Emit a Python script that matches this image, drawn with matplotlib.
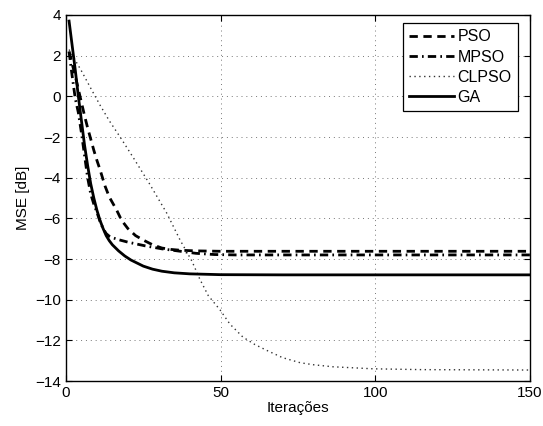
import numpy as np
import matplotlib
matplotlib.use('Agg')
import matplotlib.pyplot as plt

# values (iteration, MSE in dB)
ga_x = [1, 2, 3, 4, 5, 6, 7, 8, 9, 10, 11, 12, 13, 14, 15, 17, 19, 21, 23, 25, 28, 31, 35, 40, 50, 70, 150]
ga_y = [3.7, 2.5, 1.3, 0.0, -1.2, -2.4, -3.4, -4.3, -5.0, -5.6, -6.1, -6.5, -6.85, -7.1, -7.3, -7.6, -7.85,
        -8.05, -8.2, -8.35, -8.5, -8.6, -8.68, -8.73, -8.77, -8.78, -8.78]

pso_x = [1, 2, 3, 4, 5, 6, 7, 8, 9, 10, 11, 12.6, 14, 16.4, 18, 20, 22.5, 25, 28, 31, 34, 37, 42, 50, 150]
pso_y = [2.2, 1.6, 1.0, 0.35, -0.3, -0.95, -1.55, -2.1, -2.65, -3.15, -3.6, -4.4, -4.95, -5.6, -6.1, -6.5,
         -6.85, -7.07, -7.3, -7.46, -7.53, -7.57, -7.6, -7.62, -7.62]

mpso_x = [1, 2, 3, 4, 5, 6, 7, 8, 9, 10, 11, 12, 13, 14, 15, 17, 20, 25.5, 31, 37, 42, 48, 55, 150]
mpso_y = [2.2, 1.0, -0.1, -0.8, -1.8, -2.9, -4.0, -4.8, -5.3, -5.7, -6.15, -6.5, -6.75, -6.88, -6.95, -7.05,
          -7.17, -7.35, -7.5, -7.62, -7.72, -7.78, -7.8, -7.8]

clpso_x = [1, 5, 8, 11, 14, 17.5, 21.7, 27, 32.6, 36.9, 40.7, 43.3, 46, 49.8, 53, 57.2, 61, 65, 70, 75.7,
           80, 86.3, 99.3, 115, 150]
clpso_y = [2.3, 1.25, 0.4, -0.43, -1.2, -2.0, -3.0, -4.3, -5.75, -7.07, -8.1, -9.0, -9.8, -10.5, -11.2,
           -11.84, -12.2, -12.5, -12.85, -13.1, -13.2, -13.3, -13.4, -13.44, -13.46]

plt.rcParams['font.family'] = ['Liberation Sans', 'DejaVu Sans']
plt.rcParams['font.size'] = 11

fig = plt.figure(figsize=(5.43, 4.26), dpi=100)
ax = fig.add_axes([0.1215, 0.1056, 0.8545, 0.8592])

ax.plot(pso_x, pso_y, color='black', lw=2, linestyle=(0, (3, 2)), label='PSO')
ax.plot(mpso_x, mpso_y, color='black', lw=2, linestyle=(0, (3, 1.5, 0.6, 1.5)), label='MPSO')
ax.plot(clpso_x, clpso_y, color='#333333', lw=1, linestyle=(0, (1, 2.5)), label='CLPSO')
ax.plot(ga_x, ga_y, color='black', lw=2, label='GA')

ax.set_xlim(0, 150)
ax.set_ylim(-14, 4)
ax.set_xticks([0, 50, 100, 150])
ax.set_yticks(np.arange(-14, 5, 2))
ax.set_yticklabels([str(v).replace('-', '\u2212') for v in range(-14, 5, 2)])
ax.grid(True, color='#777777', linestyle=(0, (1, 4)), linewidth=0.7)
ax.tick_params(direction='in', length=4, width=0.8, top=True, right=True, labelsize=11)
for s in ax.spines.values():
    s.set_linewidth(1.0)

ax.set_xlabel('Iterações', fontsize=11, labelpad=1)
ax.set_ylabel('MSE [dB]', fontsize=11)

leg = ax.legend(loc='upper right', bbox_to_anchor=(0.974, 0.978), borderaxespad=0, fancybox=False,
                edgecolor='black', framealpha=1, handlelength=2.8, handletextpad=0.2, labelspacing=0.32,
                fontsize=11.5, borderpad=0.4)
leg.get_frame().set_linewidth(0.9)

fig.savefig('out.png', dpi=100)
